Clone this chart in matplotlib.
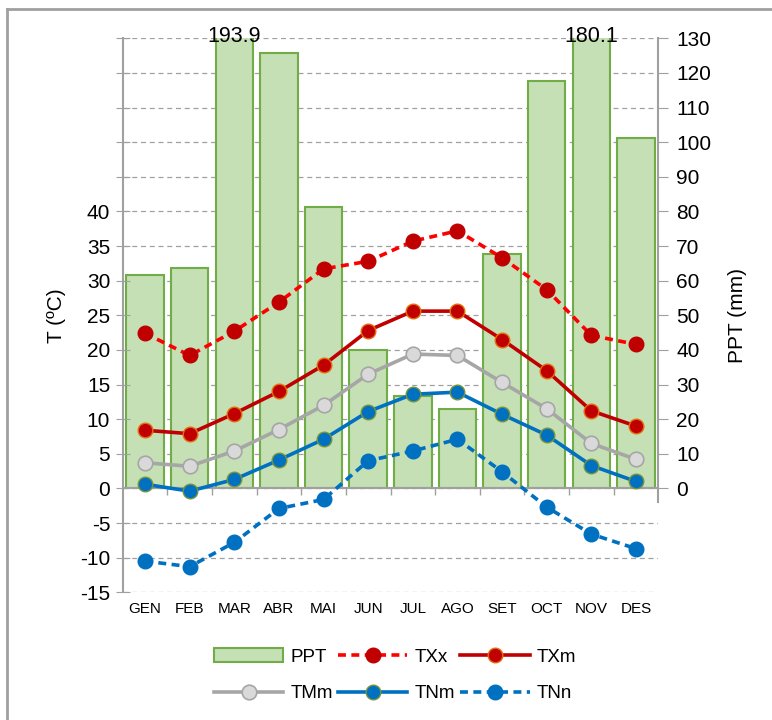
import matplotlib
matplotlib.use("Agg")
import matplotlib.pyplot as plt
from matplotlib.lines import Line2D
from matplotlib.patches import Patch
import numpy as np

plt.rcParams['font.family'] = ['Liberation Sans', 'DejaVu Sans']

# Data
months = ["GEN", "FEB", "MAR", "ABR", "MAI", "JUN", "JUL", "AGO", "SET", "OCT", "NOV", "DES"]
ppt = [61.5, 63.6, 193.9, 125.8, 81.4, 40.0, 26.8, 22.9, 67.7, 117.8, 180.1, 101.3]
txx = [22.4, 19.2, 22.7, 26.9, 31.7, 32.8, 35.7, 37.2, 33.3, 28.7, 22.1, 20.8]
txm = [8.4, 7.9, 10.8, 14.0, 17.8, 22.8, 25.6, 25.6, 21.5, 17.0, 11.2, 9.0]
tmm = [3.7, 3.2, 5.4, 8.5, 12.0, 16.5, 19.4, 19.2, 15.3, 11.5, 6.5, 4.2]
tnm = [0.6, -0.4, 1.3, 4.1, 7.1, 11.1, 13.6, 13.9, 10.7, 7.7, 3.3, 1.0]
tnn = [-10.5, -11.3, -7.8, -2.9, -1.6, 4.0, 5.4, 7.1, 2.4, -2.7, -6.6, -8.7]

x = np.arange(len(months))
grey = "#A0A0A0"

fig = plt.figure(figsize=(7.72, 7.2), dpi=100)
ax1 = fig.add_axes([0.159, 0.1774, 0.6937, 0.7694])  # PPT axis (right)
ax2 = ax1.twinx()                                     # temperature axis (left)

# bars
ax1.bar(x, ppt, width=0.84, color="#C5E0B4", edgecolor="#70AD47", linewidth=1.5, zorder=2)
ax1.set_ylim(-30, 130)
ax1.set_xlim(-0.5, 11.5)
ax1.set_yticks(range(-30, 140, 10))
ax1.set_yticklabels([str(v) if v >= 0 else "" for v in range(-30, 140, 10)])
ax1.yaxis.tick_right()
ax1.yaxis.set_label_position("right")
for t, v in zip(ax1.yaxis.get_major_ticks(), range(-30, 140, 10)):
    if v < 0:
        t.tick1line.set_visible(False)
        t.tick2line.set_visible(False)
ax1.tick_params(axis='y', which='both', labelsize=15, length=7, color=grey, pad=6)
ax1.grid(axis='y', color=grey, linestyle=(0, (4, 3)), linewidth=0.9, zorder=0)
ax1.set_axisbelow(True)
ax1.set_ylabel("PPT (mm)", fontsize=15, labelpad=12)

for s in ["left", "top"]:
    ax1.spines[s].set_visible(False)
ax1.spines["right"].set_color(grey)
ax1.spines["right"].set_linewidth(1.5)
ax1.spines["right"].set_bounds(-4, 130)
ax1.spines["bottom"].set_position(("data", 0))
ax1.spines["bottom"].set_color(grey)
ax1.spines["bottom"].set_linewidth(1.5)

# x axis: boundary ticks at zero line, labels at bottom
ax1.set_xticks(x)
ax1.set_xticklabels(months)
ax1.set_xticks(np.arange(0.5, 11.5, 1), minor=True)
ax1.tick_params(axis='x', which='major', length=0, labelsize=11, pad=82)
ax1.tick_params(axis='x', which='minor', length=5, color=grey, width=1)

# clipped value labels
for i, v in enumerate(ppt):
    if v > 130:
        ax1.annotate(f"{v:.1f}", (x[i], 130), xytext=(0, -2.5), textcoords="offset points",
                     ha="center", va="baseline", fontsize=15.5, annotation_clip=False)

# temperature lines
ax2.set_ylim(-15, 65)
ax2.yaxis.tick_left()
ax2.yaxis.set_label_position("left")
ax2.set_yticks(range(-15, 70, 5))
ax2.set_yticklabels([str(v) if v <= 40 else "" for v in range(-15, 70, 5)])
ax2.tick_params(axis='y', labelsize=15, length=10, direction='inout', color=grey, pad=4)
ax2.set_ylabel("T (ºC)", fontsize=15, labelpad=10)
for s in ["right", "top", "bottom"]:
    ax2.spines[s].set_visible(False)
ax2.spines["left"].set_color(grey)
ax2.spines["left"].set_linewidth(1.5)

ms = 10.5
lw = 2.6
ax2.plot(x, txx, color="#FF0000", linestyle=(0, (2.2, 1.5)), linewidth=lw, marker="o", markersize=ms,
         markerfacecolor="#C00000", markeredgecolor="#C00000", label="TXx")
ax2.plot(x, txm, color="#C00000", linewidth=lw, marker="o", markersize=ms,
         markerfacecolor="#C00000", markeredgecolor="#E46C0A", markeredgewidth=1, label="TXm")
ax2.plot(x, tmm, color="#A6A6A6", linewidth=lw, marker="o", markersize=ms,
         markerfacecolor="#D9D9D9", markeredgecolor="#A6A6A6", markeredgewidth=1.2, label="TMm")
ax2.plot(x, tnm, color="#0070C0", linewidth=lw, marker="o", markersize=ms,
         markerfacecolor="#0070C0", markeredgecolor="#77933C", markeredgewidth=1, label="TNm")
ax2.plot(x, tnn, color="#0070C0", linestyle=(0, (2.2, 1.5)), linewidth=lw, marker="o", markersize=ms,
         markerfacecolor="#0070C0", markeredgecolor="#0070C0", label="TNn")

# legend (column-first order -> two rows of three)
h = {l.get_label(): l for l in ax2.get_lines()}
ppt_patch = Patch(facecolor="#C5E0B4", edgecolor="#70AD47", linewidth=1.5, label="PPT")
handles = [ppt_patch, h["TMm"], h["TXx"], h["TNm"], h["TXm"], h["TNn"]]
fig.legend(handles=handles, labels=[hh.get_label() for hh in handles], ncol=3,
           loc="center", bbox_to_anchor=(0.512, 0.062), frameon=False, fontsize=13.5,
           handlelength=3.7, handletextpad=0.4, columnspacing=0.25, labelspacing=1.05)

# outer frame
fig.add_artist(Line2D([7 / 772, 1], [1 - 9 / 720, 1 - 9 / 720], color=grey, linewidth=2,
                      transform=fig.transFigure))
fig.add_artist(Line2D([7 / 772, 7 / 772], [0, 1 - 9 / 720], color=grey, linewidth=2,
                      transform=fig.transFigure))

plt.savefig("out.png", dpi=100)
